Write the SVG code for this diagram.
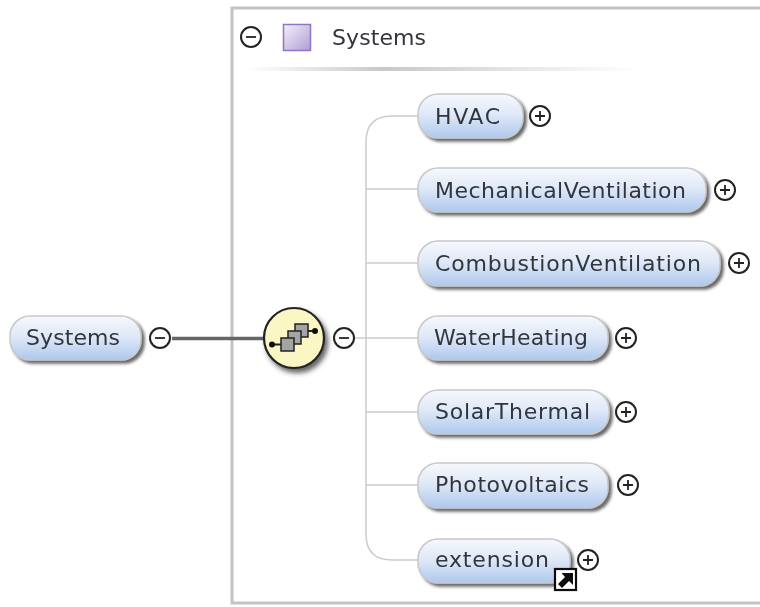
<svg xmlns="http://www.w3.org/2000/svg" width="760" height="607" viewBox="0 0 760 607">
<style>
.n{fill:url(#g);stroke:#c8c8c8;stroke-width:1.5;filter:url(#s)}
.t{font-family:"DejaVu Sans",sans-serif;font-size:22px;fill:#33363b}
.c{fill:#fff;stroke:#222;stroke-width:2}
.p{fill:none;stroke:#222;stroke-width:1.8}
.l{fill:none;stroke:#ccc;stroke-width:1.5}
</style>
<defs>
<linearGradient id="g" x1="0" y1="0" x2="0" y2="1"><stop offset="0" stop-color="#f6f8fd"/><stop offset=".45" stop-color="#e0e9f8"/><stop offset="1" stop-color="#afc8ee"/></linearGradient>
<linearGradient id="q" x1="0" y1="0" x2="1" y2="1"><stop offset="0" stop-color="#f3f0f9"/><stop offset="1" stop-color="#b09dd6"/></linearGradient>
<linearGradient id="d" x1="0" y1="0" x2="1" y2="0"><stop offset="0" stop-color="#ccc" stop-opacity="0"/><stop offset=".35" stop-color="#c8c8c8"/><stop offset="1" stop-color="#ccc" stop-opacity="0"/></linearGradient>
<filter id="s" x="-10%" y="-20%" width="125%" height="150%"><feDropShadow dx="3" dy="3" stdDeviation="1.500" flood-color="#444" flood-opacity=".8"/></filter>
<filter id="s2" x="-20%" y="-20%" width="150%" height="150%"><feDropShadow dx="3" dy="4" stdDeviation="2.500" flood-color="#333" flood-opacity=".75"/></filter>
<filter id="b" filterUnits="userSpaceOnUse" x="0" y="0" width="760" height="607"><feGaussianBlur stdDeviation=".45"/></filter>
<g id="minus"><circle r="10" class="c"/><path d="M-5 0H5" class="p"/></g>
<g id="plus"><circle r="10" class="c"/><path d="M-5 0H5M0-5V5" class="p"/></g>
<g id="box"><rect x="-6.500" y="-6.500" width="13" height="13" fill="#a4a4a4" stroke="#222" stroke-width="1.500"/></g>
</defs>
<rect width="760" height="607" fill="#fff"/>
<g filter="url(#b)">
<g id="frame">
<path d="M762 8H232V603H762" fill="none" stroke="#c4c4c4" stroke-width="3"/>
<rect x="245" y="67" width="392" height="4" fill="url(#d)"/>
<use href="#minus" x="251" y="37"/>
<rect x="283.500" y="24.500" width="27" height="26" fill="url(#q)" stroke="#8f75c4" stroke-width="1.500"/>
<text x="332" y="45" class="t" textLength="94">Systems</text>
</g>
<g id="connectors">
<path d="M172 338.500H264" fill="none" stroke="#666" stroke-width="3.500"/>
<path d="M354 338H418M418 116H392Q366 116 366 142V534Q366 560 392 560H418M366 189H418M366 263H418M366 412H418M366 485H418" class="l"/>
</g>
<g id="node-systems-root">
<rect x="10" y="316" width="131" height="44" rx="20" class="n"/>
<text x="26" y="345" class="t" textLength="94">Systems</text>
<use href="#minus" x="160" y="338"/>
</g>
<g id="node-sequence">
<circle cx="294" cy="338" r="30" fill="#fbf7c4" stroke="#222" stroke-width="2.200" filter="url(#s2)"/>
<path d="M272 344.500H282M306 331H315" stroke="#222" stroke-width="1.800"/>
<circle cx="272" cy="344.500" r="3" fill="#111"/>
<circle cx="315" cy="331" r="3" fill="#111"/>
<use href="#box" x="301.500" y="330.500"/>
<use href="#box" x="294.500" y="337.500"/>
<use href="#box" x="287.500" y="344.500"/>
<use href="#minus" x="344" y="338"/>
</g>
<g id="node-hvac">
<rect x="418" y="94" width="105" height="44" rx="20" class="n"/>
<text x="435" y="124" class="t" textLength="65">HVAC</text>
<use href="#plus" x="540" y="116"/>
</g>
<g id="node-mechanical">
<rect x="418" y="168" width="288" height="44" rx="20" class="n"/>
<text x="435" y="198" class="t" textLength="251">MechanicalVentilation</text>
<use href="#plus" x="725" y="190"/>
</g>
<g id="node-combustion">
<rect x="418" y="241" width="302" height="45" rx="20" class="n"/>
<text x="435" y="271" class="t" textLength="266">CombustionVentilation</text>
<use href="#plus" x="739" y="263"/>
</g>
<g id="node-water">
<rect x="418" y="316" width="190" height="44" rx="20" class="n"/>
<text x="434" y="345" class="t" textLength="154">WaterHeating</text>
<use href="#plus" x="626" y="338"/>
</g>
<g id="node-solar">
<rect x="418" y="390" width="191" height="44" rx="20" class="n"/>
<text x="435" y="419" class="t" textLength="155">SolarThermal</text>
<use href="#plus" x="626" y="412"/>
</g>
<g id="node-pv">
<rect x="418" y="463" width="190" height="45" rx="20" class="n"/>
<text x="435" y="492" class="t" textLength="154">Photovoltaics</text>
<use href="#plus" x="628" y="485"/>
</g>
<g id="node-extension">
<rect x="418" y="539" width="152" height="44" rx="20" class="n"/>
<text x="435" y="567" class="t" textLength="114">extension</text>
<use href="#plus" x="588" y="560"/>
<rect x="555" y="569" width="21" height="21" fill="#fff" stroke="#111" stroke-width="2.200"/>
<path d="M558 584L565 577L561.500 573H573V585L569 581L562 588Z" fill="#111"/>
</g>
</g>
</svg>
